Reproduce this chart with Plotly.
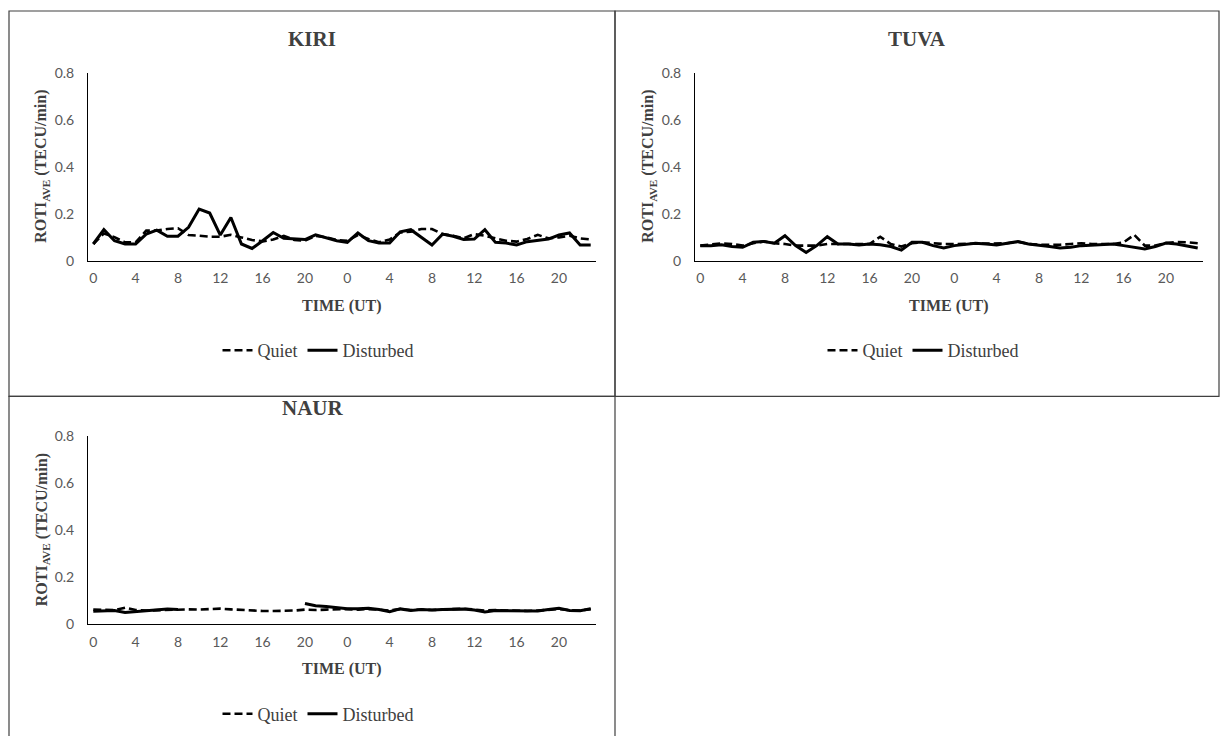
import plotly.graph_objects as go

W, H = 1220, 736

hours = list(range(24)) * 2
x_idx = list(range(48))
tick_vals = list(range(0, 48, 4))
tick_text = [str(h) for h in hours[0:48:4]]

kiri_quiet = [0.071, 0.116, 0.100, 0.078, 0.078, 0.128, 0.128, 0.135, 0.138, 0.109, 0.106, 0.102,
              0.102, 0.110, 0.099, 0.088, 0.082, 0.090, 0.106, 0.088, 0.085, 0.105, 0.100, 0.088,
              0.085, 0.109, 0.092, 0.078, 0.090, 0.120, 0.123, 0.135, 0.135, 0.113, 0.106, 0.095,
              0.113, 0.106, 0.095, 0.085, 0.081, 0.092, 0.110, 0.095, 0.099, 0.106, 0.095, 0.090]
kiri_dist = [0.071, 0.132, 0.085, 0.071, 0.071, 0.113, 0.130, 0.104, 0.104, 0.142, 0.220, 0.203,
             0.109, 0.184, 0.071, 0.052, 0.085, 0.120, 0.095, 0.092, 0.090, 0.110, 0.099, 0.085,
             0.078, 0.118, 0.085, 0.075, 0.075, 0.123, 0.132, 0.099, 0.067, 0.113, 0.104, 0.090,
             0.092, 0.132, 0.078, 0.075, 0.067, 0.081, 0.085, 0.092, 0.109, 0.118, 0.067, 0.067]

tuva_quiet = [0.064, 0.068, 0.074, 0.071, 0.064, 0.074, 0.082, 0.074, 0.071, 0.064, 0.064, 0.064,
              0.071, 0.071, 0.071, 0.071, 0.071, 0.102, 0.071, 0.060, 0.074, 0.078, 0.074, 0.071,
              0.071, 0.071, 0.074, 0.071, 0.071, 0.074, 0.081, 0.071, 0.068, 0.067, 0.068, 0.071,
              0.074, 0.071, 0.071, 0.071, 0.078, 0.110, 0.064, 0.064, 0.075, 0.080, 0.078, 0.074]
tuva_dist = [0.064, 0.064, 0.068, 0.060, 0.057, 0.078, 0.082, 0.074, 0.106, 0.064, 0.035, 0.064,
             0.102, 0.071, 0.071, 0.067, 0.071, 0.068, 0.060, 0.045, 0.078, 0.078, 0.064, 0.054,
             0.064, 0.068, 0.074, 0.071, 0.067, 0.074, 0.081, 0.071, 0.064, 0.060, 0.054, 0.057,
             0.064, 0.067, 0.071, 0.071, 0.064, 0.057, 0.050, 0.060, 0.075, 0.071, 0.064, 0.054]

naur_quiet = [0.062, 0.060, 0.060, 0.070, 0.060, 0.058, 0.060, 0.062, 0.062, 0.063, 0.062, 0.064,
              0.066, 0.063, 0.060, 0.058, 0.056, 0.056, 0.056, 0.058, 0.062, 0.060, 0.062, 0.064,
              0.064, 0.062, 0.064, 0.062, 0.058, 0.064, 0.060, 0.062, 0.060, 0.062, 0.064, 0.066,
              0.062, 0.058, 0.060, 0.058, 0.058, 0.056, 0.058, 0.060, 0.064, 0.060, 0.058, 0.064]
naur_dist = [0.055, 0.058, 0.058, 0.050, 0.053, 0.057, 0.060, 0.065, 0.062, None, None, None,
             None, None, None, None, None, None, None, None, 0.088, 0.078, 0.075, 0.070,
             0.066, 0.066, 0.068, 0.062, 0.053, 0.065, 0.058, 0.062, 0.060, 0.062, 0.063, 0.064,
             0.060, 0.052, 0.058, 0.058, 0.057, 0.055, 0.056, 0.062, 0.068, 0.058, 0.057, 0.066]

stations = ["KIRI", "TUVA", "NAUR"]
quiet = [kiri_quiet, tuva_quiet, naur_quiet]
dist = [kiri_dist, tuva_dist, naur_dist]
series_names = ["Quiet", "Disturbed"]

# layout geometry in pixels (target screenshot coordinates)
plot_boxes = [(88, 596, 72, 260), (695, 1203, 72, 260), (88, 596, 436, 624)]
panel_boxes = [(9, 615, 10, 396), (615, 1219, 10, 396), (9, 615, 396, 745)]
title_y = [38, 38, 408]

# the rendered page shows the figure with an 8px top offset and ~720px effective height
Y_OFF, H_EFF = 8, 720


def px(x):
    return x / W


def py(y):
    return 1 - (y - Y_OFF) / H_EFF


SERIF = "Liberation Serif, Times New Roman, serif"
TICKF = dict(family="Lato, Calibri, sans-serif", size=14, color="#595959")

fig = go.Figure()
legend_keys = ["legend", "legend2", "legend3"]

for k in range(3):
    xa = "x" if k == 0 else f"x{k+1}"
    ya = "y" if k == 0 else f"y{k+1}"
    fig.add_trace(go.Scatter(x=x_idx, y=quiet[k], mode="lines", name=series_names[0],
                             line=dict(color="black", width=2.6, dash="8px,4px"),
                             xaxis=xa, yaxis=ya, legend=legend_keys[k], connectgaps=False))
    fig.add_trace(go.Scatter(x=x_idx, y=dist[k], mode="lines", name=series_names[1],
                             line=dict(color="black", width=3),
                             xaxis=xa, yaxis=ya, legend=legend_keys[k], connectgaps=False))

layout = dict(width=W, height=H, margin=dict(l=0, r=0, t=0, b=0),
              paper_bgcolor="white", plot_bgcolor="white", showlegend=True)

annotations = []
shapes = []
for k in range(3):
    x0, x1, y0, y1 = plot_boxes[k]
    sfx = "" if k == 0 else str(k + 1)
    layout["xaxis" + sfx] = dict(domain=[px(x0), px(x1)], range=[-0.5, 47.5],
                                 tickvals=tick_vals, ticktext=tick_text, showgrid=False,
                                 zeroline=False, showline=True, linecolor="black", linewidth=1,
                                 ticks="", tickfont=TICKF, anchor="y" + sfx, fixedrange=True,
                                 ticklabelstandoff=5)
    layout["yaxis" + sfx] = dict(domain=[max(0.0, py(y1)), min(1.0, py(y0))], range=[0, 0.8],
                                 tickvals=[0, 0.2, 0.4, 0.6, 0.8],
                                 ticktext=["0", "0.2", "0.4", "0.6", "0.8"],
                                 showgrid=False, zeroline=False, showline=True, linecolor="black",
                                 linewidth=1, ticks="", tickfont=TICKF, anchor="x" + sfx,
                                 fixedrange=True, ticklabelstandoff=10)
    pb = panel_boxes[k]
    cx = (pb[0] + pb[1]) / 2
    annotations.append(dict(text="<b>%s</b>" % stations[k], x=px(cx), y=py(title_y[k]),
                            xref="paper", yref="paper", showarrow=False, xanchor="center",
                            yanchor="middle", font=dict(family=SERIF, size=21, color="#404040")))
    annotations.append(dict(text="<b>TIME (UT)</b>", x=px((x0 + x1) / 2), y=py(y1 + 45),
                            xref="paper", yref="paper", showarrow=False, xanchor="center",
                            yanchor="middle", font=dict(family=SERIF, size=16, color="#404040")))
    annotations.append(dict(text="<b>ROTI<sub>AVE</sub> (TECU/min)</b>", x=px(x0 - 46),
                            y=py((y0 + y1) / 2), xref="paper", yref="paper", showarrow=False,
                            textangle=-90, xanchor="center", yanchor="middle",
                            font=dict(family=SERIF, size=16, color="#404040")))
    layout[legend_keys[k]] = dict(orientation="h", x=px(cx + 6), y=py(y1 + 90),
                                  xanchor="center", yanchor="middle",
                                  font=dict(family=SERIF, size=18, color="#404040"),
                                  bgcolor="rgba(0,0,0,0)", itemwidth=30, tracegroupgap=0)
    shapes.append(dict(type="rect", xref="paper", yref="paper", x0=px(pb[0]), x1=px(pb[1]),
                       y0=py(pb[3]), y1=py(pb[2]), line=dict(color="#404040", width=1.2),
                       fillcolor="rgba(0,0,0,0)", layer="below"))

layout["annotations"] = annotations
layout["shapes"] = shapes
fig.update_layout(**layout)
fig.write_html("out.html")
